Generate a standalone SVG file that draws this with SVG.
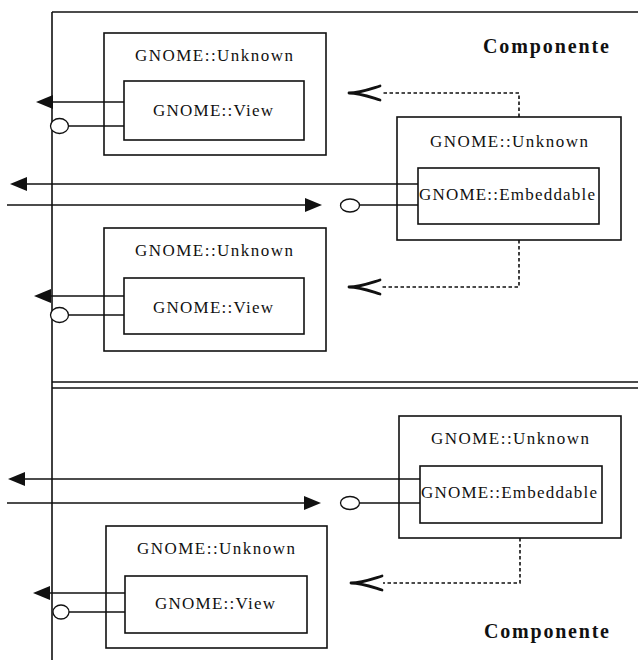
<svg xmlns="http://www.w3.org/2000/svg" width="638" height="660" viewBox="0 0 638 660">
  <style>
    .frame { fill: none; stroke: #111; stroke-width: 1.6; }
    .box { fill: none; stroke: #111; stroke-width: 1.6; }
    .wire { fill: none; stroke: #111; stroke-width: 1.6; }
    .dep { fill: none; stroke: #111; stroke-width: 1.6; stroke-dasharray: 3.5 2.5; }
    .port { fill: #fff; stroke: #111; stroke-width: 1.3; }
    .lbl { font-family: "Liberation Serif", "Times New Roman", serif; font-size: 17px; fill: #111; text-anchor: middle; }
    .title { font-family: "Liberation Serif", "Times New Roman", serif; font-size: 20px; font-weight: bold; fill: #111; }
  </style>
  <defs>
    <marker id="solidHead" markerUnits="userSpaceOnUse" viewBox="0 0 17 14" markerWidth="17" markerHeight="14" refX="0" refY="7" orient="auto">
      <path d="M0,0 L17,7 L0,14 Z" fill="#111" stroke="none"/>
    </marker>
    <marker id="forkHead" markerUnits="userSpaceOnUse" viewBox="0 0 34 16" markerWidth="34" markerHeight="16" refX="0" refY="8" orient="auto" overflow="visible">
      <path d="M32,8 C22,8 14,5 1,1 M32,8 C22,8 14,11 1,15" fill="none" stroke="#111" stroke-width="2.8" stroke-linecap="round"/>
    </marker>
  </defs>

  <!-- panel frames -->
  <g id="frames">
    <line class="frame" x1="52" y1="12" x2="52" y2="660"/>
    <line class="frame" x1="52" y1="12" x2="638" y2="12"/>
    <line class="frame" x1="52" y1="382" x2="638" y2="382"/>
    <line class="frame" x1="52" y1="388" x2="638" y2="388"/>
  </g>

  <!-- connectors -->
  <g id="connectors">
    <!-- upper panel -->
    <line class="wire" x1="124" y1="102" x2="53" y2="102" marker-end="url(#solidHead)"/>
    <line class="wire" x1="124" y1="126" x2="68" y2="126"/>
    <ellipse class="port" cx="59.5" cy="126" rx="9" ry="7.5"/>
    <line class="wire" x1="418" y1="184" x2="27" y2="184" marker-end="url(#solidHead)"/>
    <line class="wire" x1="7" y1="205" x2="305" y2="205" marker-end="url(#solidHead)"/>
    <line class="wire" x1="418" y1="205" x2="359" y2="205"/>
    <ellipse class="port" cx="350" cy="205.5" rx="9.5" ry="6.5"/>
    <path class="dep" d="M519,117 V93 H381" marker-end="url(#forkHead)"/>
    <path class="dep" d="M519,240 V287 H381" marker-end="url(#forkHead)"/>
    <line class="wire" x1="124" y1="296" x2="51" y2="296" marker-end="url(#solidHead)"/>
    <line class="wire" x1="124" y1="315" x2="68" y2="315"/>
    <ellipse class="port" cx="59.5" cy="315" rx="9" ry="7.5"/>

    <!-- lower panel -->
    <line class="wire" x1="420" y1="479" x2="25" y2="479" marker-end="url(#solidHead)"/>
    <line class="wire" x1="7" y1="503" x2="304" y2="503" marker-end="url(#solidHead)"/>
    <line class="wire" x1="420" y1="503" x2="359" y2="503"/>
    <ellipse class="port" cx="350" cy="503" rx="9.5" ry="6.5"/>
    <path class="dep" d="M520,538 V583 H383" marker-end="url(#forkHead)"/>
    <line class="wire" x1="125" y1="593" x2="50" y2="593" marker-end="url(#solidHead)"/>
    <line class="wire" x1="125" y1="612" x2="69" y2="612"/>
    <ellipse class="port" cx="61" cy="612" rx="8" ry="7"/>
  </g>

  <!-- upper panel nodes -->
  <g id="view-a">
    <rect class="box" x="104" y="33" width="222" height="122"/>
    <text class="lbl" x="214" y="61" textLength="158" lengthAdjust="spacing">GNOME::Unknown</text>
    <rect class="box" x="124" y="81" width="180" height="59"/>
    <text class="lbl" x="213" y="116" textLength="120" lengthAdjust="spacing">GNOME::View</text>
  </g>
  <g id="embeddable-a">
    <rect class="box" x="397" y="117" width="224" height="123"/>
    <text class="lbl" x="509" y="147" textLength="158" lengthAdjust="spacing">GNOME::Unknown</text>
    <rect class="box" x="418" y="168" width="181" height="56"/>
    <text class="lbl" x="507" y="200" textLength="176" lengthAdjust="spacing">GNOME::Embeddable</text>
  </g>
  <g id="view-b">
    <rect class="box" x="104" y="228" width="222" height="123"/>
    <text class="lbl" x="214" y="256" textLength="158" lengthAdjust="spacing">GNOME::Unknown</text>
    <rect class="box" x="124" y="278" width="180" height="56"/>
    <text class="lbl" x="213" y="313" textLength="120" lengthAdjust="spacing">GNOME::View</text>
  </g>
  <g id="label-a">
    <text class="title" x="483" y="53" textLength="126" lengthAdjust="spacing">Componente</text>
  </g>

  <!-- lower panel nodes -->
  <g id="embeddable-b">
    <rect class="box" x="399" y="416" width="222" height="122"/>
    <text class="lbl" x="510" y="444" textLength="158" lengthAdjust="spacing">GNOME::Unknown</text>
    <rect class="box" x="420" y="466" width="182" height="57"/>
    <text class="lbl" x="509" y="498" textLength="176" lengthAdjust="spacing">GNOME::Embeddable</text>
  </g>
  <g id="view-c">
    <rect class="box" x="106" y="526" width="221" height="122"/>
    <text class="lbl" x="216" y="554" textLength="158" lengthAdjust="spacing">GNOME::Unknown</text>
    <rect class="box" x="125" y="576" width="182" height="57"/>
    <text class="lbl" x="215" y="609" textLength="120" lengthAdjust="spacing">GNOME::View</text>
  </g>
  <g id="label-b">
    <text class="title" x="484" y="638" textLength="125" lengthAdjust="spacing">Componente</text>
  </g>
</svg>
